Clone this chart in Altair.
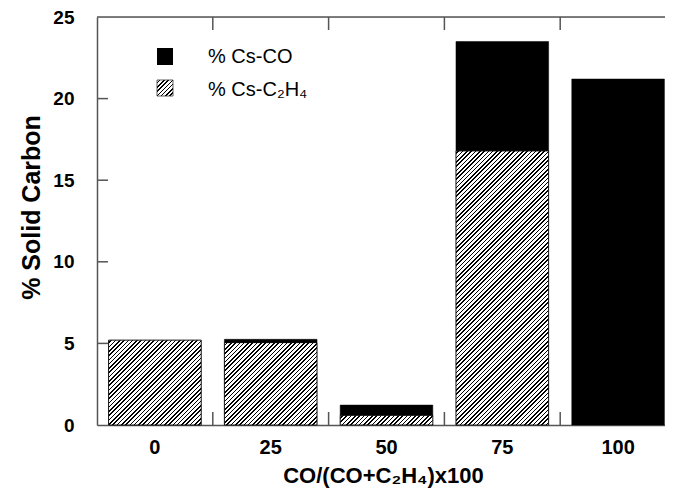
import altair as alt
import pandas as pd

# ---------------- data ----------------
cats = ["0", "25", "50", "75", "100"]
cs_c2h4 = [5.2, 5.05, 0.6, 16.8, 0.0]
cs_co = [0.0, 0.2, 0.62, 6.7, 21.2]
y_ticks = [5, 10, 15, 20]
y_labels = [0, 5, 10, 15, 20, 25]
legend_labels = ["% Cs-CO", "% Cs-C\u2082H\u2084"]
x_title = "CO/(CO+C\u2082H\u2084)x100"
y_title = "% Solid Carbon"

# ---------------- layout / style ----------------
FONT = "Liberation Sans"
W = 568          # visible plot width
RANGE = 579      # x range (frame extends past the page edge)
H = 408
YMAX = 25
P_IN = 0.2
P_OUT = 0.1
step = RANGE / (len(cats) - P_IN + 2 * P_OUT)
bw = step * (1 - P_IN)
FRAME = "#555555"


def hatch(w, h, period=4.3, thick=1.6):
    total = w + h
    k = total / (w * w + h * h)
    stops = [{"offset": 0, "color": "white"}]
    s = period / 2
    while s < total:
        a = s / total
        b = min((s + thick) / total, 1)
        stops += [
            {"offset": a, "color": "white"},
            {"offset": a, "color": "black"},
            {"offset": b, "color": "black"},
            {"offset": b, "color": "white"},
        ]
        s += period
    stops.append({"offset": 1, "color": "white"})
    return {"gradient": "linear", "x1": 0, "y1": 0, "x2": k * w, "y2": k * h, "stops": stops}


df = pd.DataFrame({"cat": cats, "c2h4": cs_c2h4, "co": cs_co})

xs = alt.Scale(domain=cats, range=[0, RANGE], paddingInner=P_IN, paddingOuter=P_OUT)
ys = alt.Scale(domain=[0, YMAX], nice=False)

x_axis = alt.Axis(
    title=x_title, labelAngle=0, ticks=False, tickSize=0, labelPadding=12,
    labelFont=FONT, labelFontSize=20, labelFontWeight="bold", labelColor="black",
    titleFont=FONT, titleFontSize=22, titleFontWeight="bold", titleColor="black",
    titleX=286, titleY=57, titleBaseline="alphabetic",
    domainColor=FRAME, domainWidth=1.5, grid=False,
)
y_axis = alt.Axis(
    values=y_labels, ticks=False, tickSize=0, labelPadding=23,
    labelFont=FONT, labelFontSize=19, labelFontWeight="bold", labelColor="black",
    title=y_title, titleFont=FONT, titleFontSize=25, titleFontWeight="bold",
    titleColor="black", titleX=-66, titleY=190, titleAngle=-90,
    titleAlign="center", titleBaseline="middle",
    domainColor=FRAME, domainWidth=1.5, grid=False,
)

base = alt.Chart(df)

layers = []
for c, v in zip(cats, cs_c2h4):
    if v <= 0:
        continue
    fill = hatch(bw, v * H / YMAX)
    layers.append(
        base.transform_filter(alt.datum.cat == c)
        .mark_bar(fill=fill, stroke="#111111", strokeWidth=1)
        .encode(
            x=alt.X("cat:N", scale=xs, axis=x_axis),
            y=alt.Y("c2h4:Q", scale=ys, axis=y_axis, stack=None),
            y2=alt.datum(0),
        )
    )

black = (
    base.transform_filter(alt.datum.co > 0)
    .transform_calculate(tot="datum.c2h4 + datum.co")
    .mark_bar(fill="black", stroke="black", strokeWidth=0.5)
    .encode(
        x=alt.X("cat:N", scale=xs, axis=x_axis),
        y=alt.Y("c2h4:Q", scale=ys, axis=y_axis, stack=None),
        y2="tot:Q",
    )
)
layers.append(black)

# inward ticks
tick_df = pd.DataFrame({"v": y_ticks})
left_ticks = alt.Chart(tick_df).mark_rule(color=FRAME, strokeWidth=1.5).encode(
    y=alt.Y("v:Q", scale=ys, axis=y_axis), x=alt.value(0), x2=alt.value(11)
)
right_ticks = alt.Chart(tick_df).mark_rule(color=FRAME, strokeWidth=1.5).encode(
    y=alt.Y("v:Q", scale=ys, axis=y_axis), x=alt.value(RANGE - 11), x2=alt.value(RANGE)
)
bnd_df = pd.DataFrame({"b": cats[1:]})
bottom_ticks = alt.Chart(bnd_df).mark_rule(
    color=FRAME, strokeWidth=1.5, xOffset=-(P_IN * step / 2)
).encode(
    x=alt.X("b:N", scale=xs, axis=x_axis, bandPosition=0),
    y=alt.value(H), y2=alt.value(H - 13),
)
top_ticks = alt.Chart(bnd_df).mark_rule(
    color=FRAME, strokeWidth=1.5, xOffset=-(P_IN * step / 2)
).encode(
    x=alt.X("b:N", scale=xs, axis=x_axis, bandPosition=0),
    y=alt.value(0), y2=alt.value(13),
)
top_line = alt.Chart(pd.DataFrame({"z": [0]})).mark_rule(color=FRAME, strokeWidth=1.5).encode(
    y=alt.value(0), x=alt.value(0), x2=alt.value(RANGE)
)

# legend
one = pd.DataFrame({"z": [0]})
leg_black = alt.Chart(one).mark_rect(fill="black").encode(
    x=alt.value(60), x2=alt.value(76), y=alt.value(31), y2=alt.value(48)
)
leg_hatch = alt.Chart(one).mark_rect(fill=hatch(16, 16), stroke="#333333", strokeWidth=0.8).encode(
    x=alt.value(60), x2=alt.value(76), y=alt.value(63), y2=alt.value(79)
)
leg_t1 = alt.Chart(pd.DataFrame({"label": [legend_labels[0]]})).mark_text(
    align="left", baseline="alphabetic", font=FONT, fontSize=20, color="black"
).encode(text="label:N", x=alt.value(111), y=alt.value(46))
leg_t2 = alt.Chart(pd.DataFrame({"label": [legend_labels[1]]})).mark_text(
    align="left", baseline="alphabetic", font=FONT, fontSize=20, color="black"
).encode(text="label:N", x=alt.value(111), y=alt.value(79))

chart = (
    alt.layer(*layers, left_ticks, right_ticks, bottom_ticks, top_ticks, top_line,
              leg_black, leg_hatch, leg_t1, leg_t2)
    .properties(
        width=W, height=H,
        autosize=alt.AutoSizeParams(type="none"),
        padding={"left": 89, "top": 9, "right": 0, "bottom": 65},
    )
    .configure_view(stroke="transparent")
    .configure(background="white")
)

chart.save("out.html", embed_options={"renderer": "svg", "actions": False})
